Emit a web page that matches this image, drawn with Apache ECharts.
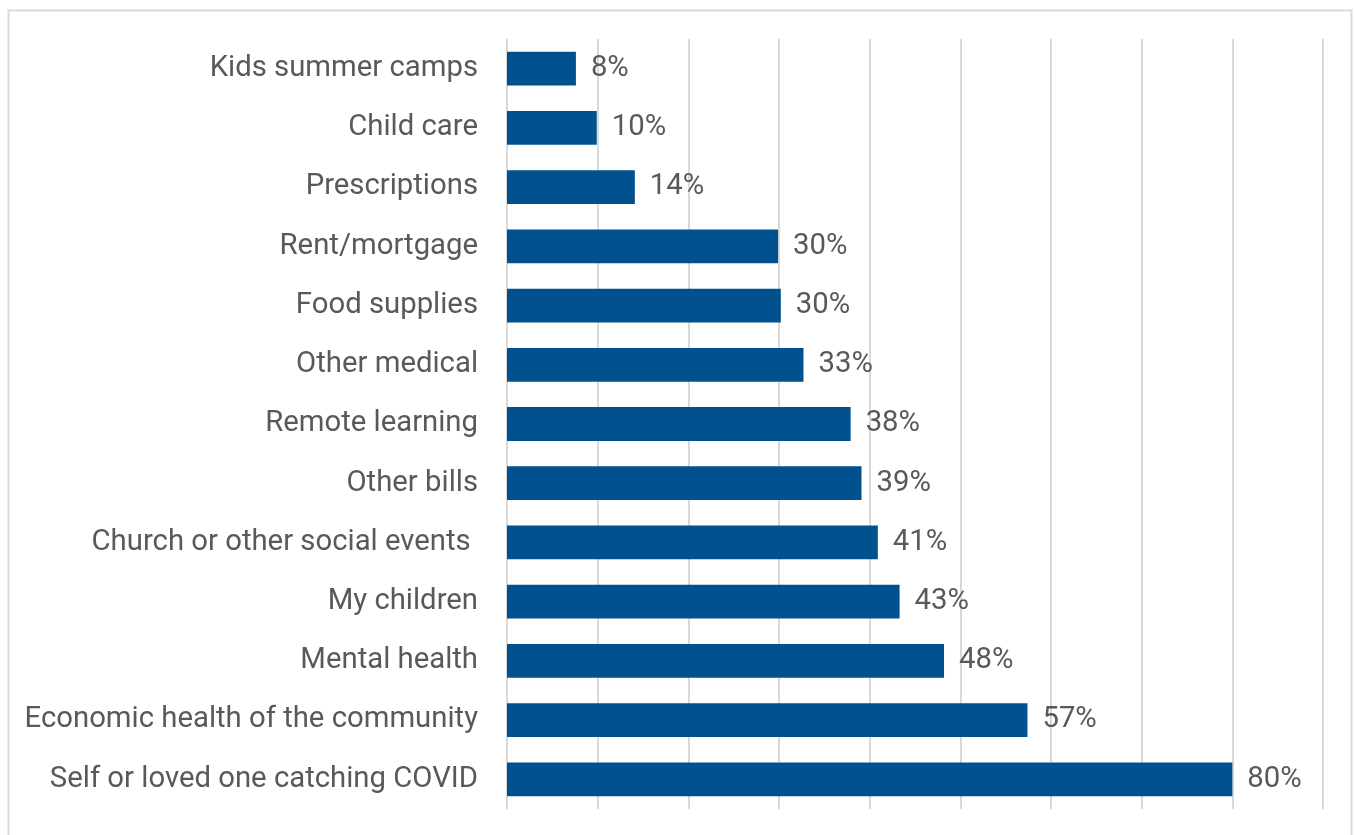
<!DOCTYPE html>
<html>
<head>
<meta charset="utf-8">
<style>
  html, body { margin: 0; padding: 0; background: #ffffff; }
  #chart { width: 1355px; height: 835px; }
</style>
<script src="https://cdn.jsdelivr.net/npm/echarts@6/dist/echarts.min.js"></script>
</head>
<body>
<div id="chart"></div>
<script>
// Concerns listed from top to bottom
const categories = [
  'Kids summer camps',
  'Child care',
  'Prescriptions',
  'Rent/mortgage',
  'Food supplies',
  'Other medical',
  'Remote learning',
  'Other bills',
  'Church or other social events ',
  'My children',
  'Mental health',
  'Economic health of the community',
  'Self or loved one catching COVID'
];
// Share of respondents (%)
const shares = [7.6, 9.9, 14.1, 29.9, 30.2, 32.7, 37.9, 39.1, 40.9, 43.3, 48.2, 57.4, 80.0];
const axisMax = 90;
const axisStep = 10;

const chart = echarts.init(document.getElementById('chart'), null, { renderer: 'canvas' });

chart.setOption({
  backgroundColor: '#ffffff',
  animation: false,
  graphic: [{
    type: 'rect',
    shape: { x: 8.5, y: 10.5, width: 1343, height: 840 },
    style: { fill: 'none', stroke: '#d9d9d9', lineWidth: 2 },
    silent: true,
    z: -1
  }],
  grid: { left: 507, right: 32, top: 39, bottom: 26, containLabel: false },
  xAxis: {
    type: 'value',
    min: 0,
    max: axisMax,
    interval: axisStep,
    axisLine: { show: false },
    axisTick: { show: false },
    axisLabel: { show: false },
    splitLine: { show: true, lineStyle: { color: '#d9d9d9', width: 2 } }
  },
  yAxis: {
    type: 'category',
    inverse: true,
    data: categories,
    axisLine: { show: false },
    axisTick: { show: false },
    axisLabel: {
      margin: 29,
      fontFamily: 'Roboto',
      fontSize: 29.3,
      color: '#595959',
      padding: [8, 0, 0, 0]
    }
  },
  series: [{
    type: 'bar',
    data: shares,
    barCategoryGap: '43%',
    itemStyle: { color: '#00518e' },
    label: {
      show: true,
      position: 'right',
      distance: 15,
      fontFamily: 'Roboto',
      fontSize: 29.3,
      color: '#595959',
      padding: [8, 0, 0, 0],
      formatter: p => Math.round(p.value) + '%'
    }
  }]
});
</script>
</body>
</html>
